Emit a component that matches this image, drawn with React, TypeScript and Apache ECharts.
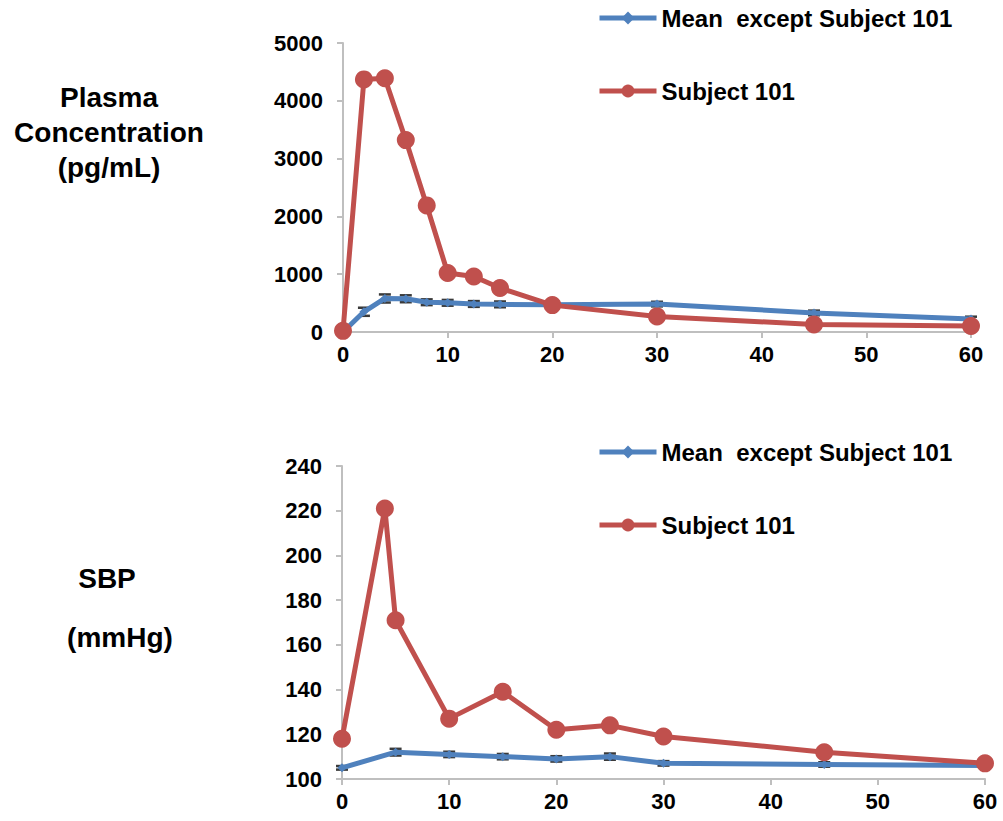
import React, { useEffect, useRef } from "react";
import * as echarts from "echarts";

const MEAN_NAME = "Mean  except Subject 101";
const SUBJ_NAME = "Subject 101";

// Top chart: plasma concentration (pg/mL)
const topRedTimes = [0, 2, 4, 6, 8, 10, 12.5, 15, 20, 30, 45, 60];
const topRedValues = [20, 4370, 4390, 3320, 2190, 1020, 960, 760, 465, 270, 130, 105];
const topBlueTimes = [0, 2, 4, 6, 8, 10, 12.5, 15, 20, 30, 45, 60];
const topBlueValues = [0, 350, 580, 575, 515, 505, 485, 478, 470, 483, 330, 225];
const topBlueErr = [10, 70, 70, 60, 50, 50, 50, 50, 30, 40, 40, 40];

// Bottom chart: SBP (mmHg)
const botRedTimes = [0, 4, 5, 10, 15, 20, 25, 30, 45, 60];
const botRedValues = [118, 221, 171, 127, 139, 122, 124, 119, 112, 107];
const botBlueTimes = [0, 5, 10, 15, 20, 25, 30, 45, 60];
const botBlueValues = [105, 112, 111, 110, 109, 110, 107, 106.5, 106];
const botBlueErr = [0.8, 1.5, 1.2, 1.2, 1.2, 1.4, 1.0, 1.0, 0.6];

const topYTicks = { min: 0, max: 5000, interval: 1000 };
const botYTicks = { min: 100, max: 240, interval: 20 };
const xTicks = { min: 0, max: 60, interval: 10 };

const BLUE = "#4f81bd";
const RED = "#c0504d";
const AXIS = "#bfbfbf";
const FONT = "'Liberation Sans', Arial, sans-serif";

function pairs(xs: number[], ys: number[]) {
  return xs.map((x, i) => [x, ys[i]]);
}

function errData(xs: number[], ys: number[], es: number[]) {
  return xs.map((x, i) => [x, ys[i] - es[i], ys[i] + es[i]]);
}

const renderErr = (params: any, api: any) => {
  const x = api.value(0);
  const lo = api.coord([x, api.value(1)]);
  const hi = api.coord([x, api.value(2)]);
  const w = 6;
  const style = { stroke: "#3a3a3a", lineWidth: 2.5 };
  return {
    type: "group",
    children: [
      { type: "line", shape: { x1: lo[0], y1: lo[1], x2: hi[0], y2: hi[1] }, style },
      { type: "line", shape: { x1: lo[0] - w, y1: lo[1], x2: lo[0] + w, y2: lo[1] }, style },
      { type: "line", shape: { x1: hi[0] - w, y1: hi[1], x2: hi[0] + w, y2: hi[1] }, style },
    ],
  };
};

export default function App() {
  const ref = useRef<HTMLDivElement>(null);
  useEffect(() => {
    if (!ref.current) return;
    const chart = echarts.init(ref.current, null, { renderer: "svg" });
    const axisLabel = {
      color: "#000",
      fontSize: 22,
      fontWeight: "bold",
      fontFamily: FONT,
      formatter: (v: number) => String(v),
    };
    const xAxisBase = {
      type: "value",
      min: xTicks.min,
      max: xTicks.max,
      interval: xTicks.interval,
      splitLine: { show: false },
      axisLine: { show: true, lineStyle: { color: AXIS, width: 2 } },
      axisTick: { show: true, length: 6, lineStyle: { color: AXIS, width: 2 } },
      axisLabel: { ...axisLabel, margin: 11 },
    };
    const yAxisBase = {
      type: "value",
      splitLine: { show: false },
      axisLine: { show: true, lineStyle: { color: AXIS, width: 2 } },
      axisTick: { show: true, length: 6, lineStyle: { color: AXIS, width: 2 } },
      axisLabel: { ...axisLabel, margin: 20 },
    };
    const legendBase = {
      orient: "vertical",
      itemWidth: 57,
      itemHeight: 16,
      itemGap: 49,
      selectedMode: false,
      lineStyle: { width: 5 },
      textStyle: { color: "#000", fontSize: 24, fontWeight: "bold", fontFamily: FONT },
      data: [MEAN_NAME, SUBJ_NAME],
    };
    const blueLine = {
      type: "line",
      name: MEAN_NAME,
      symbol: "diamond",
      symbolSize: 9,
      lineStyle: { color: BLUE, width: 5 },
      itemStyle: { color: BLUE },
      z: 4,
    };
    const redLine = {
      type: "line",
      name: SUBJ_NAME,
      symbol: "circle",
      symbolSize: 18,
      lineStyle: { color: RED, width: 5 },
      itemStyle: { color: RED },
      z: 5,
    };
    const titleStyle = {
      textAlign: "center",
      fontSize: 28,
      lineHeight: 35,
      fontWeight: "bold",
      fontFamily: FONT,
      fill: "#000",
    };
    chart.setOption({
      animation: false,
      grid: [
        { left: 343, right: 32, top: 43, height: 289 },
        { left: 342, right: 18, top: 466, height: 313 },
      ],
      xAxis: [
        { ...xAxisBase, gridIndex: 0 },
        { ...xAxisBase, gridIndex: 1 },
      ],
      yAxis: [
        { ...yAxisBase, gridIndex: 0, ...topYTicks },
        { ...yAxisBase, gridIndex: 1, ...botYTicks },
      ],
      legend: [
        { ...legendBase, left: 592, top: 1 },
        { ...legendBase, left: 592, top: 435 },
      ],
      graphic: [
        {
          type: "text",
          style: { ...titleStyle, text: "Plasma\nConcentration\n(pg/mL)", x: 109, y: 80 },
        },
        {
          type: "text",
          style: { ...titleStyle, text: "SBP", x: 107, y: 561 },
        },
        {
          type: "text",
          style: { ...titleStyle, text: "(mmHg)", x: 120, y: 620 },
        },
      ],
      series: [
        {
          type: "custom",
          xAxisIndex: 0,
          yAxisIndex: 0,
          renderItem: renderErr,
          data: errData(topBlueTimes, topBlueValues, topBlueErr),
          z: 3,
          silent: true,
        },
        { ...blueLine, xAxisIndex: 0, yAxisIndex: 0, data: pairs(topBlueTimes, topBlueValues) },
        { ...redLine, xAxisIndex: 0, yAxisIndex: 0, data: pairs(topRedTimes, topRedValues) },
        {
          type: "custom",
          xAxisIndex: 1,
          yAxisIndex: 1,
          renderItem: renderErr,
          data: errData(botBlueTimes, botBlueValues, botBlueErr),
          z: 3,
          silent: true,
        },
        { ...blueLine, xAxisIndex: 1, yAxisIndex: 1, data: pairs(botBlueTimes, botBlueValues) },
        { ...redLine, xAxisIndex: 1, yAxisIndex: 1, data: pairs(botRedTimes, botRedValues) },
      ],
    });
    return () => chart.dispose();
  }, []);
  return (
    <div
      ref={ref}
      style={{ position: "absolute", left: 0, top: 0, width: 1003, height: 821, background: "#fff" }}
    />
  );
}
